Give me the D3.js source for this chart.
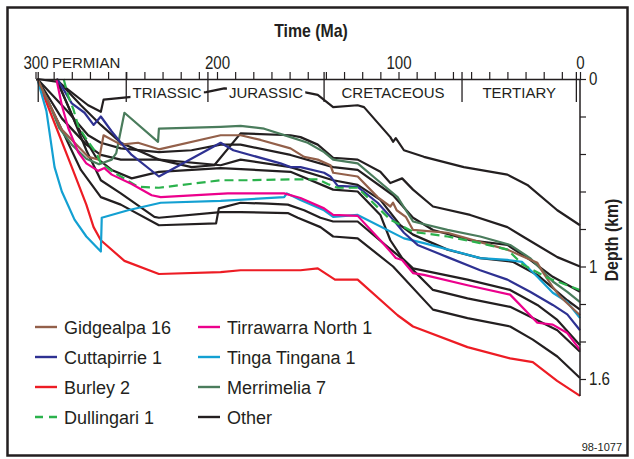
<!DOCTYPE html>
<html><head><meta charset="utf-8">
<script src="https://cdn.jsdelivr.net/npm/d3@7"></script>
<style>
html,body{margin:0;padding:0;background:#fff;}
svg{display:block;}
</style></head>
<body>
<svg id="chart" width="634" height="459"></svg>
<script>
// ---------- data: [age (Ma), depth (km)] ----------
const wellNames = ["Gidgealpa 16","Cuttapirrie 1","Burley 2","Dullingari 1","Tirrawarra North 1","Tinga Tingana 1","Merrimelia 7","Other"];
const wellColors = ["#93604a","#2e3192","#ed1c24","#2bb24c","#ec008c","#13a0d2","#4a7c5c","#231f20"];

const gidgealpa16 = [[299,0],[285.5,0.27],[271,0.415],[265,0.43],[262.5,0.30],[253,0.35],[243.5,0.34],[232,0.375],[198,0.30],[187,0.30],[176,0.325],[159.5,0.37],[152,0.415],[144.5,0.43],[137.5,0.46],[136,0.50],[122.5,0.52],[111.5,0.63],[104.5,0.68],[103,0.66],[101,0.70],[96,0.735],[92,0.805],[73,0.82],[55,0.87],[40,0.91],[33,0.94],[23.5,0.98],[20.5,1.03],[15,1.11],[11,1.16],[0,1.26]];
const cuttapirrie1 = [[288,0],[280,0.13],[273,0.18],[268,0.245],[264,0.20],[258,0.28],[253,0.34],[247,0.405],[232,0.52],[198,0.34],[191,0.38],[165,0.45],[159.5,0.47],[154,0.47],[141,0.50],[137.5,0.52],[133.5,0.57],[122.5,0.575],[111.5,0.66],[103,0.75],[97,0.82],[89.5,0.885],[73,0.95],[55,1.02],[40,1.07],[27.5,1.135],[15,1.205],[7,1.255],[0,1.34]];
const burley2 = [[299,0],[288.5,0.26],[280,0.47],[272,0.67],[268,0.79],[264,0.86],[251,0.97],[232,1.04],[198,1.03],[187,1.02],[154,1.02],[144.5,1.01],[135,1.07],[122.5,1.07],[100.5,1.26],[92,1.32],[62,1.43],[38.5,1.49],[26,1.51],[12.6,1.61],[0,1.69]];
const dullingari1 = [[284.5,0],[282,0.09],[279,0.165],[276.5,0.25],[272,0.32],[266.5,0.395],[264,0.45],[256.5,0.50],[253,0.52],[243.5,0.575],[232,0.58],[198,0.54],[183,0.54],[157.5,0.535],[144.5,0.535],[139,0.56],[133.5,0.58],[122.5,0.58],[104.5,0.75],[92,0.815],[73,0.84],[55,0.875],[40,0.91],[31.5,0.99],[18,1.06],[0,1.125]];
const tirrawarraNorth1 = [[288.5,0],[285.5,0.14],[282,0.26],[276.5,0.39],[272,0.45],[265.5,0.49],[262,0.475],[258,0.51],[247,0.56],[236,0.62],[231,0.63],[194,0.61],[163,0.61],[154,0.635],[141,0.69],[136,0.725],[122.5,0.73],[110,0.86],[104.5,0.92],[101.5,0.955],[98,0.965],[92,1.035],[86,1.045],[62,1.10],[38.5,1.15],[23.5,1.30],[15,1.31],[7,1.355],[0,1.445]];
const tingaTingana1 = [[299,0],[294,0.17],[289.5,0.47],[285.5,0.60],[278.5,0.75],[272,0.84],[264,0.92],[263.5,0.74],[249,0.70],[231,0.66],[198,0.65],[163,0.63],[161.5,0.61],[154,0.645],[141,0.70],[136,0.735],[122.5,0.725],[97,0.85],[86,0.875],[55,0.955],[40,0.965],[32,0.975],[23.5,1.055],[15,1.14],[7,1.19],[0,1.275]];
const merrimelia7 = [[299,0],[292,0.14],[287,0.26],[280,0.35],[272,0.425],[265,0.455],[258,0.43],[255.5,0.395],[251,0.18],[232.5,0.335],[232,0.265],[198,0.255],[187,0.25],[174,0.265],[159.5,0.31],[150,0.34],[141,0.39],[136,0.43],[122.5,0.45],[111.5,0.54],[100.5,0.63],[92,0.76],[73,0.805],[55,0.84],[38.5,0.885],[27.5,0.955],[15,1.08],[7,1.135],[0,1.19]];
const otherWells = [
  [[299,0],[287.5,0.015],[271,0.14],[264,0.175],[262.5,0.11],[247,0.095],[206,0.07],[196,0.05],[152,0.07],[144.5,0.085],[136,0.15],[122.5,0.14],[119,0.15],[104.5,0.31],[103,0.335],[101.5,0.315],[97,0.38],[86,0.415],[64,0.47],[40,0.51],[29,0.565],[12.5,0.70],[0,0.78]],
  [[288.5,0],[275,0.14],[264,0.245],[253,0.34],[232,0.43],[214,0.47],[201.5,0.46],[187,0.29],[159.5,0.30],[154,0.31],[144.5,0.35],[136,0.42],[122.5,0.43],[110,0.495],[104.5,0.555],[98,0.53],[92,0.59],[81,0.68],[60.5,0.725],[40,0.79],[31.5,0.84],[12.5,0.95],[0,1.00]],
  [[299,0],[283,0.165],[271,0.30],[264,0.34],[253,0.37],[232,0.39],[214,0.38],[198,0.35],[187,0.35],[159.5,0.405],[136,0.47],[122.5,0.485],[103,0.62],[92,0.74],[81,0.805],[60.5,0.86],[40,0.885],[27.5,0.965],[15,1.055],[0,1.135]],
  [[299,0],[285.5,0.21],[272,0.35],[264,0.405],[253,0.43],[232,0.43],[198,0.46],[187,0.43],[159.5,0.47],[136,0.54],[122.5,0.565],[110,0.645],[99,0.78],[92,0.83],[73,0.91],[55,0.955],[37,0.975],[23.5,1.045],[7,1.18],[0,1.23]],
  [[288.5,0],[277.5,0.245],[266.5,0.42],[258,0.485],[247,0.53],[232,0.495],[198,0.475],[159.5,0.495],[136,0.59],[122.5,0.60],[110,0.725],[104.5,0.86],[98,0.955],[92,1.01],[62,1.07],[38.5,1.125],[23.5,1.205],[12.5,1.285],[0,1.42]],
  [[299,0],[285.5,0.27],[275,0.485],[264,0.63],[253,0.67],[232,0.78],[200.5,0.77],[199,0.69],[187,0.66],[172,0.665],[161,0.67],[152,0.70],[143,0.74],[136,0.76],[122.5,0.76],[106,0.895],[99,0.95],[81,1.125],[62,1.17],[38.5,1.215],[26,1.275],[12.5,1.34],[0,1.455]],
  [[288.5,0],[280,0.19],[272,0.38],[264,0.54],[253,0.61],[234.5,0.735],[232,0.74],[198,0.71],[187,0.71],[161,0.715],[155.5,0.74],[143,0.79],[136,0.84],[122.5,0.85],[103,1.00],[81,1.23],[62,1.275],[38.5,1.32],[26,1.39],[12.5,1.48],[0,1.595]]
];

const periodNames = ["PERMIAN","TRIASSIC","JURASSIC","CRETACEOUS","TERTIARY"];
const periodBounds = [298.5, 250, 205, 141, 65, 2];
const timeTicks = [300,290,280,270,260,250,240,230,220,210,200,190,180,170,160,150,140,130,120,110,100,90,80,70,60,50,40,30,20,10,0];
const timeLabels = [300,200,100,0];
const depthTicks = [0,0.2,0.4,0.6,0.8,1.0,1.2,1.4,1.6];
const depthLabels = [0,1,1.6];

// ---------- drawing ----------
const svg = d3.select("#chart");
const sans = "'Liberation Sans',Arial,Helvetica,sans-serif";
const squeeze = 0.84;

const x = d3.scaleLinear().domain([300,0]).range([35.5,580]);
const y = d3.scaleLinear().domain([0,1.6]).range([79,379]);

// frame
svg.append("rect").attr("x",7.5).attr("y",7.5).attr("width",620).attr("height",448)
  .attr("fill","none").attr("stroke","#231f20").attr("stroke-width",2.5);

const line = d3.line().x(d=>x(d[0])).y(d=>y(d[1]));
const gLines = svg.append("g");

otherWells.forEach(w=>{
  gLines.append("path").attr("d",line(w)).attr("fill","none")
    .attr("stroke",wellColors[7]).attr("stroke-width",2.2).attr("stroke-linejoin","round");
});
const named = [gidgealpa16,cuttapirrie1,burley2,dullingari1,tirrawarraNorth1,tingaTingana1,merrimelia7];
[2,5,6,0,1,3,4].forEach(i=>{
  gLines.append("path").attr("d",line(named[i])).attr("fill","none")
    .attr("stroke",wellColors[i]).attr("stroke-width",2.2).attr("stroke-linejoin","round")
    .attr("stroke-dasharray", i===3 ? "9,5" : null);
});

// period labels (white background)
const gP = svg.append("g");
periodNames.forEach((p,i)=>{
  if(i===0){
    gP.append("text").attr("x",52).attr("y",68).text(p)
      .attr("font-family",sans).attr("font-size",15).attr("fill","#231f20");
    return;
  }
  const cx = (x(periodBounds[i])+x(periodBounds[i+1]))/2;
  const t = gP.append("text").attr("x",cx).attr("y",98).attr("text-anchor","middle").text(p)
      .attr("font-family",sans).attr("font-size",15).attr("fill","#231f20");
  const bb = t.node().getBBox();
  gP.insert("rect","text").attr("x",bb.x-2).attr("y",bb.y).attr("width",bb.width+4).attr("height",bb.height)
    .attr("fill","#fff");
});
// period boundary lines
periodBounds.forEach(b=>{
  svg.append("line").attr("x1",x(b)).attr("x2",x(b)).attr("y1",72).attr("y2",102)
    .attr("stroke","#231f20").attr("stroke-width",1.3);
});

// top axis
const topAxis = d3.axisTop(x).tickValues(timeTicks).tickSize(7).tickSizeOuter(0).tickPadding(3)
  .tickFormat(d=> timeLabels.includes(d) ? d : "");
const gT = svg.append("g").attr("transform","translate(0,79)").call(topAxis);
gT.select(".domain").attr("stroke","#231f20").attr("stroke-width",1.5);
gT.selectAll(".tick line").attr("stroke","#231f20").attr("stroke-width",1.2);
gT.selectAll(".tick text").attr("font-family",sans).attr("font-size",18).attr("fill","#231f20")
  .attr("transform",`scale(${squeeze},1)`);

// right axis
svg.append("line").attr("x1",580).attr("x2",580).attr("y1",79).attr("y2",396)
  .attr("stroke","#231f20").attr("stroke-width",1.5);
const rightAxis = d3.axisRight(y).tickValues(depthTicks).tickSize(6).tickSizeOuter(0).tickPadding(3)
  .tickFormat(d=> depthLabels.some(v=>Math.abs(v-d)<1e-9) ? d3.format("")(+d.toFixed(1)) : "");
const gR = svg.append("g").attr("transform","translate(580,0)").call(rightAxis);
gR.select(".domain").remove();
gR.selectAll(".tick line").attr("stroke","#231f20").attr("stroke-width",1.2);
gR.selectAll(".tick text").attr("font-family",sans).attr("font-size",18).attr("fill","#231f20")
  .attr("x",9/squeeze).attr("transform",`scale(${squeeze},1)`);

// axis titles
svg.append("text").attr("transform",`translate(311,37) scale(0.88,1)`).attr("text-anchor","middle").text("Time (Ma)")
  .attr("font-family",sans).attr("font-weight","bold").attr("font-size",18).attr("fill","#231f20");
svg.append("text").attr("transform","translate(618,240) rotate(-90) scale(0.88,1)").attr("text-anchor","middle").text("Depth (km)")
  .attr("font-family",sans).attr("font-weight","bold").attr("font-size",18).attr("fill","#231f20");

// legend
const legend = svg.append("g");
wellNames.forEach((n,i)=>{
  const col = Math.floor(i/4), row = i%4;
  const lx = col===0 ? 35 : 198, ly = 327 + row*30;
  legend.append("line").attr("x1",lx).attr("x2",lx+22).attr("y1",ly).attr("y2",ly)
    .attr("stroke",wellColors[i]).attr("stroke-width",2.4)
    .attr("stroke-dasharray", i===3 ? "8,6" : null);
  legend.append("text").attr("x",lx+29).attr("y",ly+6.5).text(n)
    .attr("font-family",sans).attr("font-size",18).attr("fill","#231f20");
});

// figure id
svg.append("text").attr("x",622).attr("y",451).attr("text-anchor","end").text("98-1077")
  .attr("font-family",sans).attr("font-size",11).attr("fill","#231f20");
</script>
</body></html>
